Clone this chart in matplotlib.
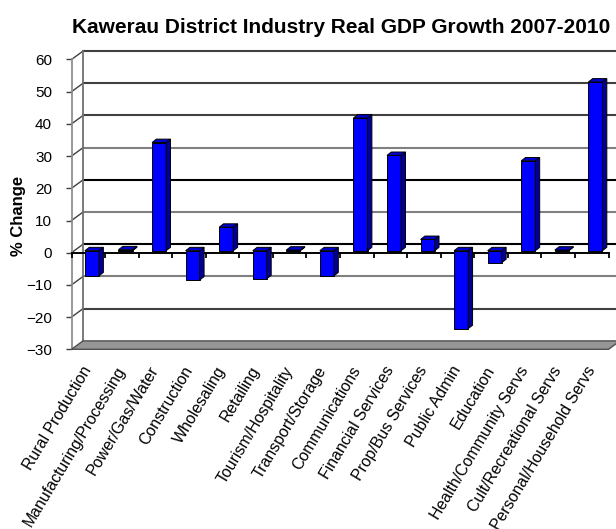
import numpy as np
import matplotlib.pyplot as plt
from matplotlib.patches import Polygon

# ---- data ----
industries = [
    "Rural Production", "Manufacturing/Processing", "Power/Gas/Water",
    "Construction", "Wholesaling", "Retailing", "Tourism/Hospitality",
    "Transport/Storage", "Communications", "Financial Services",
    "Prop/Bus Services", "Public Admin", "Education",
    "Health/Community Servs", "Cult/Recreational Servs",
    "Personal/Household Servs",
]
growth = [-7.8, 0.3, 33.6, -9.1, 7.3, -8.7, 0.2, -7.8,
          41.2, 29.6, 3.5, -24.2, -3.7, 27.9, 0.2, 52.4]
y_levels = [60, 50, 40, 30, 20, 10, 0, -10, -20, -30]

# ---- fake 3d geometry (data units) ----
DX, DY = 0.343, 2.61      # depth of walls / floor
BX0, BY0 = 0.11, 0.62     # bar front face offset into the box
BDX, BDY = 0.13, 1.05     # bar depth
BW = 0.42                 # bar width

plt.rcParams['font.family'] = ['Liberation Sans', 'DejaVu Sans']

n = len(industries)
centers = np.arange(n) + 0.5

fig = plt.figure(figsize=(6.16, 5.29), dpi=100)
ax = fig.add_axes([71.5 / 616, 179.7 / 529, 537 / 616, 289.8 / 529])
ax.set_xlim(0, n)
ax.set_ylim(-30, 60)
for s in ax.spines.values():
    s.set_visible(False)

# back wall gridlines + side wall connectors
grid_colors = ['#404040', '#404040', '#404040', '#808080', '#000000',
               '#808080', '#000000', '#808080', '#404040']
for v, c in zip(y_levels[:-1], grid_colors):
    ax.plot([DX, n + DX], [v + DY, v + DY], color=c, lw=1.5,
            clip_on=False, zorder=1)
    ax.plot([0, DX], [v, v + DY], color='#404040', lw=1.0,
            clip_on=False, zorder=1)

# wall edges
ax.plot([DX, DX], [-30 + DY, 60 + DY], color='#707070', lw=1.3,
        clip_on=False, zorder=1)
ax.plot([0, 0], [-30, 60], color='#909090', lw=1.3, clip_on=False, zorder=2)

# floor
floor = Polygon([(0, -30), (DX, -30 + DY), (n + DX, -30 + DY), (n, -30)],
                closed=True, facecolor='#969696', edgecolor='#505050',
                lw=1.0, clip_on=False, zorder=2)
ax.add_patch(floor)

# category axis at zero with ticks between categories
ax.plot([0, n], [0, 0], color='black', lw=1.4, clip_on=False, zorder=2)
ax.vlines(np.arange(n + 1), -1.6, 0, color='black', lw=1.3,
          clip_on=False, zorder=2)

# bars: front faces
ax.bar(centers + BX0, growth, width=BW, bottom=BY0, color='#0000FF',
       edgecolor='black', lw=0.7, zorder=4)

# bars: side and top faces
for cx, v in zip(centers, growth):
    x0 = cx + BX0 - BW / 2
    x1 = x0 + BW
    ylo = BY0 + min(v, 0)
    yhi = BY0 + max(v, 0)
    side = Polygon([(x1, ylo), (x1 + BDX, ylo + BDY), (x1 + BDX, yhi + BDY),
                    (x1, yhi)], closed=True, facecolor='#000099',
                   edgecolor='black', lw=0.7, zorder=4)
    top = Polygon([(x0, yhi), (x0 + BDX, yhi + BDY), (x1 + BDX, yhi + BDY),
                   (x1, yhi)], closed=True, facecolor='#0000CC',
                  edgecolor='black', lw=0.7, zorder=4)
    ax.add_patch(side)
    ax.add_patch(top)

# axes ticks and labels
ax.set_yticks(y_levels)
ax.tick_params(axis='y', length=4.5, width=1, color='#404040', pad=9.5,
               labelsize=11)
ax.set_xticks(centers, industries)
ax.tick_params(axis='x', length=0, pad=13, labelsize=11.4)
plt.setp(ax.get_xticklabels(), rotation=59, ha='right', va='center',
         rotation_mode='anchor')

fig.text(341 / 616, 1 - 33 / 529,
         "Kawerau District Industry Real GDP Growth 2007-2010",
         ha='center', va='baseline', fontsize=15, fontweight='bold')
fig.text(18.5 / 616, 1 - 216 / 529, "% Change", rotation=90,
         ha='center', va='center', fontsize=12, fontweight='bold')

fig.savefig("out.png", dpi=100)
